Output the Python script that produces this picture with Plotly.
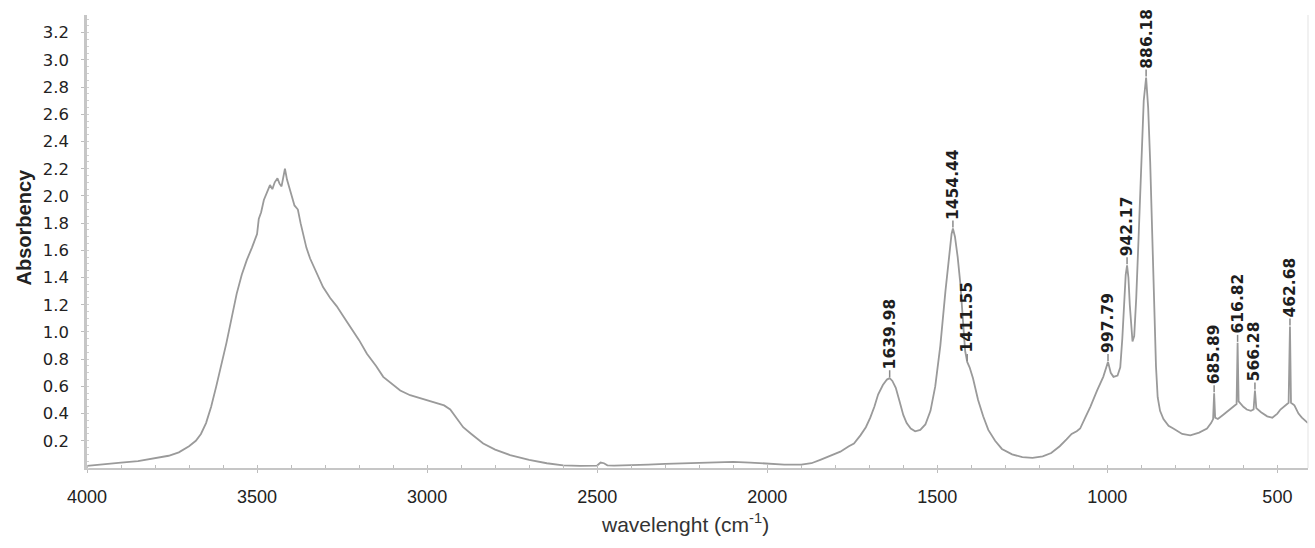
import plotly.graph_objects as go

# Spectrum (wavenumber cm-1, absorbance)
wavenumber = [4000, 3950, 3900, 3850, 3800, 3760, 3730, 3700, 3680, 3665, 3650, 3635, 3620, 3605,
              3590, 3575, 3560, 3545, 3530, 3515, 3500, 3495, 3488, 3480, 3470, 3462, 3455, 3448,
              3440, 3434, 3428, 3422, 3418, 3412, 3405, 3398, 3390, 3380, 3372, 3364, 3355, 3344,
              3325, 3306, 3285, 3266, 3245, 3226, 3200, 3177, 3150, 3129, 3100, 3079, 3050, 3030,
              3000, 2971, 2950, 2932, 2915, 2894, 2870, 2835, 2800, 2756, 2700, 2648, 2600, 2550,
              2500, 2490, 2480, 2470, 2450, 2400, 2350, 2300, 2250, 2200, 2150, 2100, 2050, 2000,
              1950, 1900, 1870, 1844, 1815, 1785, 1760, 1745, 1726, 1710, 1697, 1685, 1674, 1660,
              1648, 1640, 1632, 1622, 1612, 1600, 1590, 1578, 1565, 1550, 1535, 1520, 1506, 1491,
              1476, 1466, 1458, 1454, 1448, 1440, 1432, 1425, 1418, 1412, 1405, 1395, 1380, 1365,
              1350, 1330, 1310, 1280, 1250, 1220, 1190, 1165, 1140, 1120, 1105, 1090, 1080, 1065,
              1050, 1030, 1012, 1003, 998, 990, 982, 970, 962, 956, 950, 946, 942, 938, 934, 930,
              926, 921, 915, 908, 900, 893, 886, 880, 874, 868, 862, 857, 852, 845, 835, 820, 806,
              780, 756, 730, 707, 695, 689, 686, 683, 675, 660, 645, 630, 620, 617, 614, 600, 590,
              578, 570, 566, 562, 548, 530, 515, 500, 491, 478, 467, 463, 460, 450, 438, 428, 420,
              413, 410]
absorbance = [0.015, 0.03, 0.04, 0.05, 0.07, 0.09, 0.115, 0.16, 0.20, 0.25, 0.33, 0.45, 0.60, 0.75,
              0.92, 1.10, 1.28, 1.42, 1.53, 1.62, 1.72, 1.83, 1.88, 1.97, 2.04, 2.08, 2.05, 2.10,
              2.13, 2.09, 2.07, 2.14, 2.20, 2.12, 2.05, 2.00, 1.93, 1.90, 1.80, 1.71, 1.62, 1.54,
              1.43, 1.33, 1.25, 1.19, 1.11, 1.04, 0.94, 0.84, 0.75, 0.67, 0.61, 0.57, 0.535, 0.52,
              0.50, 0.48, 0.46, 0.43, 0.37, 0.30, 0.25, 0.18, 0.135, 0.095, 0.06, 0.035, 0.02, 0.015,
              0.018, 0.04, 0.035, 0.02, 0.018, 0.02, 0.025, 0.03, 0.035, 0.04, 0.045, 0.045, 0.04, 0.03,
              0.025, 0.025, 0.035, 0.06, 0.09, 0.12, 0.16, 0.18, 0.24, 0.30, 0.37, 0.45, 0.54, 0.61,
              0.65, 0.66, 0.64, 0.59, 0.50, 0.39, 0.33, 0.29, 0.27, 0.28, 0.32, 0.42, 0.60, 0.90,
              1.30, 1.55, 1.72, 1.76, 1.70, 1.55, 1.35, 1.10, 0.86, 0.78, 0.74, 0.66, 0.50, 0.38,
              0.28, 0.20, 0.14, 0.10, 0.08, 0.075, 0.085, 0.11, 0.16, 0.21, 0.25, 0.27, 0.29, 0.37,
              0.45, 0.57, 0.67, 0.74, 0.78, 0.70, 0.67, 0.68, 0.74, 0.95, 1.25, 1.42, 1.49, 1.40, 1.20, 1.02,
              0.93, 0.97, 1.25, 1.70, 2.25, 2.70, 2.87, 2.65, 2.25, 1.70, 1.15, 0.75, 0.52, 0.42, 0.36, 0.31, 0.29,
              0.25, 0.24, 0.26, 0.29, 0.33, 0.36, 0.55, 0.37, 0.36, 0.39, 0.42, 0.45, 0.47, 0.92, 0.49, 0.45, 0.43,
              0.42, 0.43, 0.57, 0.44, 0.41, 0.38, 0.37, 0.40, 0.43, 0.46, 0.48, 1.04, 0.48, 0.46, 0.40, 0.37, 0.35,
              0.33, 0.33]

# Labelled peaks
peak_wn = [1639.98, 1454.44, 1411.55, 997.79, 942.17, 886.18, 685.89, 616.82, 566.28, 462.68]
peak_x = [1640, 1454, 1412, 998, 942, 886, 686, 617, 566, 463]
peak_abs = [0.66, 1.76, 0.78, 0.78, 1.49, 2.87, 0.55, 0.92, 0.57, 1.04]

x_ticks = [4000, 3500, 3000, 2500, 2000, 1500, 1000, 500]
y_ticks = [0.2, 0.4, 0.6, 0.8, 1.0, 1.2, 1.4, 1.6, 1.8, 2.0, 2.2, 2.4, 2.6, 2.8, 3.0, 3.2]

fig = go.Figure()
fig.add_trace(go.Scatter(x=wavenumber, y=absorbance, mode="lines",
                         line=dict(color="#9a9a9a", width=1.8), hoverinfo="skip",
                         showlegend=False))

annotations = []
shapes = []
for wn, px, a in zip(peak_wn, peak_x, peak_abs):
    annotations.append(dict(x=px, y=a, xref="x", yref="y", text=f"{wn:.2f}",
                            showarrow=False, textangle=-90, xanchor="center",
                            yanchor="bottom", yshift=7,
                            font=dict(family="DejaVu Sans", size=15.5, color="#1e1e1e",
                                      weight="bold")))
    shapes.append(dict(type="line", xref="x", yref="y", ysizemode="pixel", yanchor=a,
                       x0=px, x1=px, y0=1, y1=8, line=dict(color="#8a8a8a", width=1.5)))

# axis titles
annotations.append(dict(x=0.49, y=-0.121, xref="paper", yref="paper",
                        text="wavelenght (cm<sup>-1</sup>)", showarrow=False,
                        xanchor="center", yanchor="middle",
                        font=dict(family="Liberation Sans", size=21, color="#333333")))
annotations.append(dict(x=-0.052, y=0.53, xref="paper", yref="paper", text="Absorbency",
                        showarrow=False, textangle=-90, xanchor="center", yanchor="middle",
                        font=dict(family="Liberation Sans", size=20, color="#222222",
                                  weight="bold")))
shapes.append(dict(type="line", xref="paper", yref="paper", x0=1, x1=1, y0=0, y1=1,
                   line=dict(color="#ececec", width=1.5)))

fig.update_layout(
    width=1315, height=548,
    margin=dict(l=87, r=7, t=15, b=80),
    plot_bgcolor="white", paper_bgcolor="white",
    annotations=annotations, shapes=shapes,
    xaxis=dict(range=[4000, 410], tickvals=x_ticks, ticktext=[str(v) for v in x_ticks],
               showgrid=False, zeroline=False, showline=True, linecolor="#c6c6c6",
               linewidth=2, ticks="outside", ticklen=3, tickcolor="#bdbdbd", tickwidth=1,
               minor=dict(dtick=100, ticks="inside", ticklen=3, tickcolor="#bdbdbd",
                          showgrid=False),
               tickfont=dict(family="Liberation Sans", size=18, color="#222222"),
               ticklabelstandoff=8),
    yaxis=dict(range=[0, 3.33], tickvals=y_ticks, ticktext=[f"{v:.1f}" for v in y_ticks],
               showgrid=False, zeroline=False, showline=True, linecolor="#c6c6c6",
               linewidth=2.5, ticks="outside", ticklen=3, tickcolor="#bdbdbd", tickwidth=1,
               minor=dict(dtick=0.05, ticks="inside", ticklen=2, tickcolor="#d0d0d0",
                          showgrid=False),
               tickfont=dict(family="DejaVu Sans", size=16.5, color="#222222"),
               ticklabelstandoff=9),
)

fig.write_html("out.html")
